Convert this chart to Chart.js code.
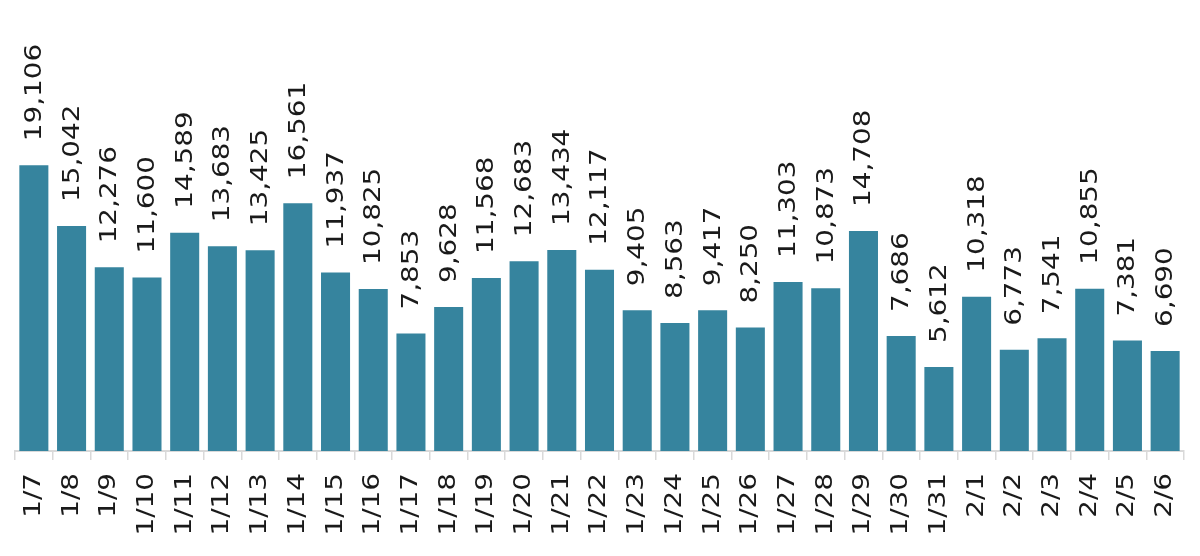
<!DOCTYPE html>
<html>
<head>
<meta charset="utf-8">
<script src="https://cdn.jsdelivr.net/npm/chart.js@4/dist/chart.umd.min.js"></script>
<style>
html,body{margin:0;padding:0;background:#fff;}
#wrap{width:1200px;height:556px;position:relative;}
</style>
</head>
<body>
<div id="wrap"><canvas id="c" width="1200" height="556"></canvas></div>
<script>
const categories = ["1/7","1/8","1/9","1/10","1/11","1/12","1/13","1/14","1/15","1/16","1/17","1/18","1/19","1/20","1/21","1/22","1/23","1/24","1/25","1/26","1/27","1/28","1/29","1/30","1/31","2/1","2/2","2/3","2/4","2/5","2/6"];
const values = [19106,15042,12276,11600,14589,13683,13425,16561,11937,10825,7853,9628,11568,12683,13434,12117,9405,8563,9417,8250,11303,10873,14708,7686,5612,10318,6773,7541,10855,7381,6690];

const FONT = '23px "DejaVu Sans", Verdana, sans-serif';
const STRETCH = 1.21;

const labelPlugin = {
  id: 'rotLabels',
  afterDatasetsDraw(chart) {
    const ctx = chart.ctx;
    const meta = chart.getDatasetMeta(0);
    ctx.save();
    ctx.font = FONT;
    ctx.fillStyle = '#1a1a1a';
    meta.data.forEach((bar, i) => {
      const txt = values[i].toLocaleString('en-US');
      ctx.save();
      ctx.translate(bar.x + 1, bar.y - 24);
      ctx.rotate(-Math.PI / 2);
      ctx.scale(STRETCH, 1);
      ctx.textAlign = 'left';
      ctx.textBaseline = 'middle';
      ctx.fillText(txt, 0, 0);
      ctx.restore();
    });
    const xs = chart.scales.x;
    categories.forEach((c, i) => {
      const x = xs.getPixelForTick(i);
      ctx.save();
      ctx.translate(x, 473);
      ctx.rotate(-Math.PI / 2);
      ctx.scale(STRETCH, 1);
      ctx.textAlign = 'right';
      ctx.textBaseline = 'middle';
      ctx.fillText(c, 0, 0);
      ctx.restore();
    });
    ctx.restore();
  }
};

new Chart(document.getElementById('c'), {
  type: 'bar',
  data: {
    labels: categories,
    datasets: [{
      data: values,
      backgroundColor: '#36849e',
      borderWidth: 0,
      barPercentage: 0.77,
      categoryPercentage: 1.0
    }]
  },
  options: {
    responsive: false,
    animation: false,
    devicePixelRatio: 1,
    layout: { padding: { left: 15, right: 16, top: 0, bottom: 96 } },
    plugins: { legend: { display: false }, tooltip: { enabled: false } },
    scales: {
      x: {
        grid: { display: true, drawOnChartArea: false, drawTicks: true, tickLength: 9, offset: true, color: '#d9d9d9', lineWidth: 1.5 },
        border: { display: true, color: '#d9d9d9', width: 2 },
        ticks: { display: false }
      },
      y: {
        display: false,
        min: 0,
        max: 30150
      }
    }
  },
  plugins: [labelPlugin]
});
</script>
</body>
</html>
